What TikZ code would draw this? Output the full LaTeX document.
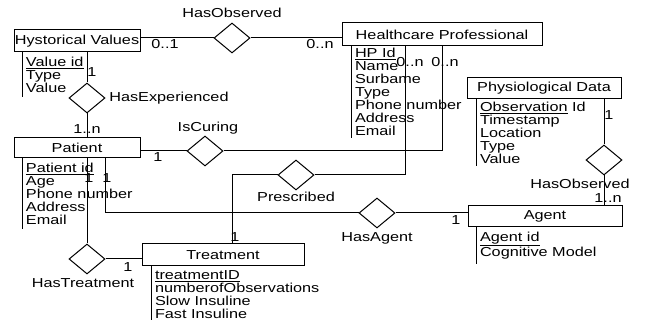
\documentclass[tikz,border=0pt]{standalone}
\usepackage{fontspec}
\setmainfont[FakeStretch=1.25]{Liberation Sans}
\usepackage{tikz}
\usetikzlibrary{positioning,shapes.geometric,calc}

\begin{document}
\begin{tikzpicture}[
  x=1pt,y=-1pt,line width=1pt,
  font=\fontsize{13}{13}\selectfont,
  entity/.style={draw,minimum height=21pt,inner sep=0pt},
  rel/.style={draw,diamond,minimum width=36pt,minimum height=30pt,inner sep=0pt},
  attrs/.style={anchor=north west,align=left,inner xsep=3pt,inner ysep=4pt,
                append after command={(\tikzlastnode.north west) edge (\tikzlastnode.south west)}},
  mult/.style={inner sep=0pt},
]
  \useasboundingbox (0,0) rectangle (646,320);
  % entities
  \node[entity,minimum width=126pt,minimum height=22pt] (hyst) at (77,41) {Hystorical Values};
  \node[entity,minimum width=200pt,minimum height=23pt] (hp) at (442,34.5) {Healthcare Professional};
  \node[entity,minimum width=126pt,minimum height=20pt] (pat) at (77,148) {Patient};
  \node[entity,minimum width=154pt] (phys) at (544,88.5) {Physiological Data};
  \node[entity,minimum width=154pt] (agent) at (545,216.5) {Agent};
  \node[entity,minimum width=162pt,minimum height=22pt] (treat) at (223,255) {Treatment};
  % attributes
  \node[attrs] (hystattr) at ([xshift=9pt]hyst.south west) {\underline{Value id}\\Type\\Value};
  \node[attrs,inner ysep=1.5pt] (hpattr) at ([xshift=10pt]hp.south west)
    {\underline{HP Id}\\Name\\Surbame\\Type\\Phone number\\Address\\Email};
  \node[attrs] (patattr) at ([xshift=9pt]pat.south west)
    {\underline{Patient id}\\Age\\Phone number\\Address\\Email};
  \node[attrs,inner ysep=2pt] (physattr) at ([xshift=10pt]phys.south west)
    {\underline{Observation} Id\\Timestamp\\Location\\Type\\Value};
  \node[attrs] (agentattr) at ([xshift=9pt]agent.south west) {\underline{Agent id}\\Cognitive Model};
  \node[attrs] (treatattr) at ([xshift=10pt]treat.south west)
    {\underline{treatmentID}\\numberofObservations\\Slow Insuline\\Fast Insuline};
  % relationships
  \node[rel] (hasobsA) at (232,38) {};
  \node[above=1pt of hasobsA] (hasobsAlab) {HasObserved};
  \node[rel] (hasexp) at (87,98) {};
  \node[right=0pt of hasexp] (hasexplab) {HasExperienced};
  \node[rel] (iscuring) at (205,151) {};
  \node[above=-3pt of iscuring,xshift=3pt] (iscuringlab) {IsCuring};
  \node[rel] (prescribed) at (296,175) {};
  \node[below=-2pt of prescribed] (prescribedlab) {Prescribed};
  \node[rel] (hasagent) at (377,213) {};
  \node[below=0pt of hasagent] (hasagentlab) {HasAgent};
  \node[rel] (hastreat) at (87,259) {};
  \node[below=0pt of hastreat,xshift=-4pt] (hastreatlab) {HasTreatment};
  \node[rel] (hasobsB) at (604,160) {};
  \node[below=0pt of hasobsB,xshift=-24pt] (hasobsBlab) {HasObserved};
  % connector ends
  \coordinate (hpP) at ([xshift=-37pt]hp.south);
  \coordinate (treatP) at ([xshift=9pt]treat.north);
  \coordinate (patA) at ([xshift=28pt]pat.south);
  % connectors
  \draw (hasobsA.west) -- (hasobsA.west -| hyst.east);
  \draw (hasobsA.east) -- (hasobsA.east -| hp.west);
  \draw (hasexp.north) -- (hasexp.north |- hyst.south);
  \draw (hasexp.south) -- (hasexp.south |- pat.north);
  \draw (iscuring.west) -- (iscuring.west -| pat.east);
  \draw (iscuring.east) -| (hp.south);
  \draw (prescribed.east) -| (hpP);
  \draw (prescribed.west) -| (treatP);
  \draw (patA) |- (hasagent.west);
  \draw (hasagent.east) -- (hasagent.east -| agent.west);
  \draw (hastreat.north) -- (hastreat.north |- pat.south);
  \draw (hastreat.east) -- (hastreat.east -| treat.west);
  \draw (hasobsB.north) -- (hasobsB.north |- phys.south);
  \draw (hasobsB.south) -- (hasobsB.south |- agent.north);
  % multiplicities
  \node[mult] (m1) at (165,44) {0..1};
  \node[mult] (m2) at (320,44) {0..n};
  \node[mult] (m3) at (92,72) {1};
  \node[mult] (m4) at (87,129) {1..n};
  \node[mult] (m5) at (158,157) {1};
  \node[mult] (m6) at (445,62) {0..n};
  \node[mult] (m7) at (410,62) {0..n};
  \node[mult] (m8) at (235,237) {1};
  \node[mult] (m9) at (107,178) {1};
  \node[mult] (m10) at (456,220) {1};
  \node[mult] (m11) at (89,178) {1};
  \node[mult] (m12) at (128,267) {1};
  \node[mult] (m13) at (609,115) {1};
  \node[mult] (m14) at (608,198) {1..n};
\end{tikzpicture}
\end{document}
